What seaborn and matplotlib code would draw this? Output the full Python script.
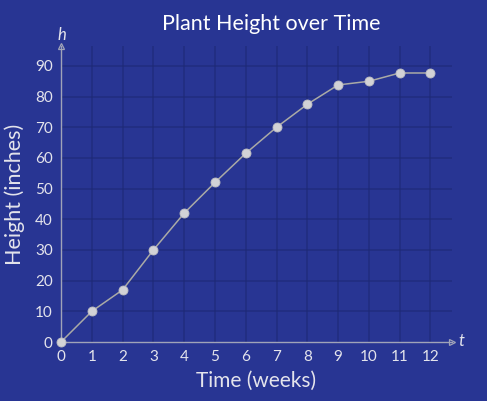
import matplotlib
matplotlib.use("Agg")
import matplotlib.pyplot as plt
import pandas as pd
import seaborn as sns

# plant height readings
weeks = [0, 1, 2, 3, 4, 5, 6, 7, 8, 9, 10, 11, 12]
height_in = [0, 10, 17, 30, 42, 52, 61.5, 70, 77.5, 83.8, 85, 87.7, 87.7]
x_ticks = list(range(0, 13))
y_ticks = list(range(0, 100, 10))

BG = "#283593"
GRID = "#1d2872"
AXIS = "#a0a3b8"
TEXT = "#e4e4ec"

sns.set_style("white", rc={"axes.facecolor": BG, "figure.facecolor": BG})
plt.rcParams["font.family"] = ["Lato", "DejaVu Sans"]

df = pd.DataFrame({"t": weeks, "h": height_in})

fig = plt.figure(figsize=(4.87, 4.01), dpi=100)
ax = fig.add_axes([61 / 487, (401 - 342) / 401, (452 - 61) / 487, (342 - 46) / 401])
ax.set_facecolor(BG)

for v in x_ticks[1:]:
    ax.axvline(v, color=GRID, lw=1.1, alpha=0.6, zorder=0)
for v in y_ticks[1:]:
    ax.axhline(v, color=GRID, lw=1.1, alpha=0.6, zorder=0)

sns.lineplot(data=df, x="t", y="h", ax=ax, color="#aaaaa6", lw=1.1,
             marker="o", markersize=6.5, markerfacecolor="#d2d2d6",
             markeredgecolor="#bcbcc2", markeredgewidth=0.6, zorder=5,
             clip_on=False)

ax.set_xlim(0, 12.7)
ax.set_ylim(0, 96.5)
ax.set_xticks(x_ticks)
ax.set_yticks(y_ticks)
ax.tick_params(length=0, labelsize=11, labelcolor=TEXT, pad=6)

for side in ["top", "right"]:
    ax.spines[side].set_visible(False)
for side in ["left", "bottom"]:
    ax.spines[side].set_color(AXIS)
    ax.spines[side].set_linewidth(1.0)

# arrow heads at axis ends
ax.plot(1, 0, ">", color=AXIS, ms=4, transform=ax.transAxes, clip_on=False,
        markerfacecolor="none", markeredgewidth=0.9)
ax.plot(0, 1, "^", color=AXIS, ms=4, transform=ax.transAxes, clip_on=False,
        markerfacecolor="none", markeredgewidth=0.9)

ax.set_xlabel("Time (weeks)", fontsize=15, color=TEXT, labelpad=5)
ax.set_ylabel("Height (inches)", fontsize=15.5, color=TEXT, labelpad=7)

fig.text(62 / 487, 1 - 35 / 401, "h", fontsize=12, color=TEXT,
         style="italic", ha="center", va="center")
fig.text(461 / 487, 1 - 341 / 401, "t", fontsize=12, color=TEXT,
         style="italic", ha="center", va="center")
fig.text(271 / 487, 1 - 24 / 401, "Plant Height over Time", fontsize=15.5,
         color="white", ha="center", va="center")

fig.savefig("out.png", dpi=100, facecolor=BG)
